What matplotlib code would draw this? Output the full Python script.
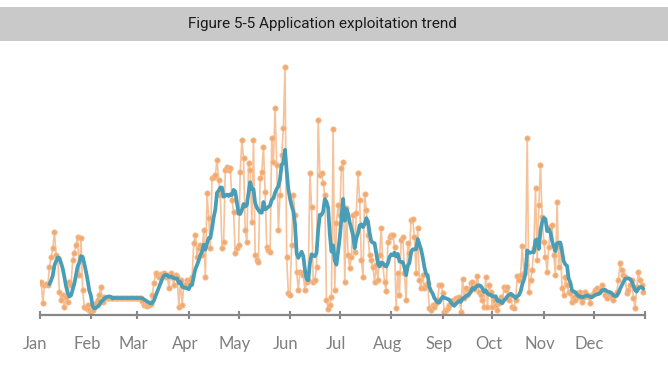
import matplotlib
matplotlib.use("Agg")
import matplotlib.pyplot as plt
import matplotlib.transforms as mtransforms
import pandas as pd

# Daily application-exploitation counts (arbitrary units)
jan = [32, 33, 12, 30, 31, 30, 48, 58, 67, 83, 60, 57, 23, 15, 20, 8, 18, 13, 33, 30,
       55, 62, 70, 78, 40, 77, 25, 8, 7, 10, 5]
feb = [3, 5, 8, 12, 15, 20, 28, 13, 18, 17, 17, 17, 17, 17, 17, 17, 17, 17, 17, 17,
       17, 17, 17, 17, 17, 17, 17, 17]
mar = [17, 17, 17, 14, 10, 10, 9, 10, 11, 20, 32, 42, 40, 38, 41, 40, 42, 38, 40, 27,
       42, 38, 30, 40, 38, 8, 35, 10, 30, 30, 35]
apr = [33, 35, 38, 72, 80, 58, 67, 70, 60, 85, 38, 122, 97, 67, 137, 138, 140, 155, 135, 120,
       67, 73, 145, 148, 145, 147, 115, 103, 62, 67]
may = [70, 143, 175, 157, 85, 73, 152, 145, 93, 175, 60, 55, 53, 137, 143, 168, 123, 68, 65, 63,
       177, 153, 207, 150, 85, 120, 160, 187, 248, 58, 22]
jun = [20, 70, 120, 100, 43, 25, 43, 42, 40, 25, 33, 35, 142, 108, 33, 35, 48, 195, 140, 142,
       132, 120, 15, 6, 10, 18, 186, 25, 92, 110]
jul = [100, 147, 153, 33, 107, 60, 47, 58, 100, 63, 102, 142, 115, 55, 38, 121, 105, 80, 60, 55,
       48, 33, 50, 35, 60, 87, 50, 33, 24, 73, 78]
aug = [80, 80, 68, 7, 42, 20, 75, 78, 42, 15, 72, 62, 95, 96, 78, 42, 87, 35, 27, 40,
       27, 30, 32, 7, 5, 10, 8, 12, 15, 30, 30]
sep = [22, 3, 5, 7, 10, 12, 15, 12, 17, 15, 18, 3, 36, 17, 27, 20, 25, 32, 33, 26,
       30, 39, 23, 20, 15, 8, 38, 8, 30, 23]
oct_ = [8, 15, 10, 5, 12, 18, 15, 28, 25, 28, 15, 20, 8, 7, 15, 39, 35, 40, 69, 42,
        50, 177, 23, 35, 45, 67, 127, 55, 110, 150, 98]
nov = [73, 58, 43, 68, 88, 90, 60, 40, 113, 48, 68, 27, 20, 38, 30, 23, 22, 13, 18, 15,
       22, 18, 23, 13, 18, 23, 20, 18, 12, 20]
dec = [22, 25, 27, 23, 25, 30, 25, 20, 17, 22, 20, 18, 15, 20, 23, 35, 52, 45, 40, 38,
       22, 25, 30, 35, 17, 7, 28, 43, 35, 30, 23]

month_labels = ["Jan", "Feb", "Mar", "Apr", "May", "Jun",
                "Jul", "Aug", "Sep", "Oct", "Nov", "Dec"]
title_text = "Figure 5-5 Application exploitation trend"

values = jan + feb + mar + apr + may + jun + jul + aug + sep + oct_ + nov + dec
dates = pd.date_range("2021-01-01", periods=len(values), freq="D")
series = pd.Series(values, index=dates, dtype=float)
smooth = series.rolling(7).mean()

W, H = 668, 369
fig = plt.figure(figsize=(W / 100, H / 100), dpi=100)
fig.patch.set_facecolor("white")

# Title band
band = plt.Rectangle((0, 1 - 41 / H), 1, 34 / H, transform=fig.transFigure,
                     facecolor="#c9c9c9", edgecolor="none", zorder=0)
fig.patches.append(band)
fig.text(322 / W, 1 - 24 / H, title_text, ha="center", va="center",
         fontsize=11, color="#1a1a1a",
         family=["Liberation Sans Narrow", "Roboto", "DejaVu Sans"])

left_px, right_px = 39.5, 645
bottom_px, top_px = 315, 55
ax = fig.add_axes([left_px / W, 1 - bottom_px / H,
                   (right_px - left_px) / W, (bottom_px - top_px) / H])
ax.set_facecolor("none")

ax.plot(series.index, series.values, color="#f5c29a", lw=1.2, zorder=2,
        marker="o", markersize=3.8, markerfacecolor="#f2a96f",
        markeredgecolor="#f5bd90", markeredgewidth=0.6)
ax.plot(smooth.index, smooth.values, color="#4a9db6", lw=2.7, zorder=3,
        solid_joinstyle="round", solid_capstyle="round")

ax.set_xlim(pd.Timestamp("2021-01-01"), pd.Timestamp("2022-01-01"))
ax.set_ylim(0, 260)

for s in ["top", "right", "left"]:
    ax.spines[s].set_visible(False)
ax.spines["bottom"].set_color("#888888")
ax.spines["bottom"].set_linewidth(1.6)
ax.set_yticks([])

tick_dates = list(pd.date_range("2021-01-01", "2022-01-01", freq="MS"))
ax.set_xticks(tick_dates)
ax.set_xticklabels(month_labels + [""])
ax.tick_params(axis="x", direction="inout", length=6, width=1.5, color="#888888",
               pad=12, labelsize=12, labelcolor="#7f7f7f")
offset = mtransforms.ScaledTranslation(-4 / 100, 0, fig.dpi_scale_trans)
for lbl in ax.get_xticklabels():
    lbl.set_family(["Lato", "DejaVu Sans"])
    lbl.set_transform(lbl.get_transform() + offset)

fig.savefig("out.png", dpi=100, facecolor="white")
